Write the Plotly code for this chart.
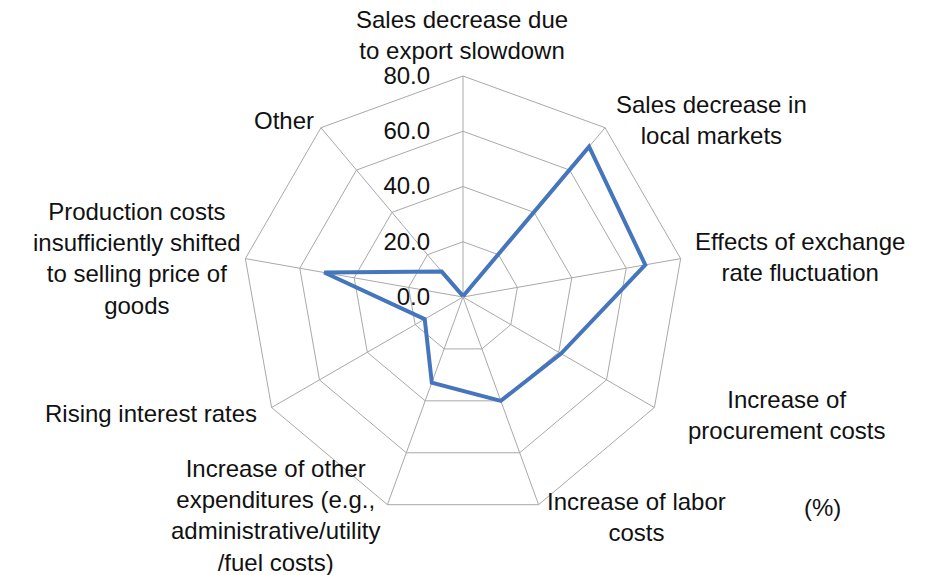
import plotly.graph_objects as go

# Survey: factors behind worsening operating profit (%)
categories = [
    "Sales decrease due to export slowdown",
    "Sales decrease in local markets",
    "Effects of exchange rate fluctuation",
    "Increase of procurement costs",
    "Increase of labor costs",
    "Increase of other expenditures (e.g., administrative/utility /fuel costs)",
    "Rising interest rates",
    "Production costs insufficiently shifted to selling price of goods",
    "Other",
]
values = [0.3, 71.0, 67.0, 41.0, 40.0, 33.0, 16.0, 51.0, 12.0]

# Wrapped display text for each category label
label_lines = [
    "Sales decrease due<br>to export slowdown",
    "Sales decrease in<br>local markets",
    "Effects of exchange<br>rate fluctuation",
    "Increase of<br>procurement costs",
    "Increase of labor<br>costs",
    "Increase of other<br>expenditures (e.g.,<br>administrative/utility<br>/fuel costs)",
    "Rising interest rates",
    "Production costs<br>insufficiently shifted<br>to selling price of<br>goods",
    "Other",
]
# Label anchor points in pixels (x from left, y from top)
label_px = [
    (462, 35), (711, 120), (800, 257), (786, 415), (636, 517),
    (275, 515), (151, 413), (137, 258), (284, 120),
]
radial_ticks = [0, 20, 40, 60, 80]

W, H = 928, 575
FONT = "Liberation Sans, Arial, sans-serif"
GRID = "#a9a9a9"

r_closed = values + values[:1]
theta_closed = categories + categories[:1]

fig = go.Figure(
    go.Scatterpolar(
        r=r_closed,
        theta=theta_closed,
        mode="lines",
        line=dict(color="#4576bd", width=4),
        hoverinfo="skip",
        showlegend=False,
    )
)

cx, cy, R = 463, 297, 221
fig.update_layout(
    width=W,
    height=H,
    margin=dict(l=0, r=0, t=0, b=0),
    paper_bgcolor="white",
    plot_bgcolor="white",
    font=dict(family=FONT, size=24, color="#111111"),
    polar=dict(
        domain=dict(x=[(cx - R) / W, (cx + R) / W], y=[1 - (cy + R) / H, 1 - (cy - R) / H]),
        bgcolor="white",
        gridshape="linear",
        radialaxis=dict(
            range=[0, 80],
            tickvals=radial_ticks,
            tickformat=".1f",
            angle=90,
            tickangle=90,
            side="counterclockwise",
            showline=False,
            ticks="outside",
            ticklen=24,
            tickcolor="rgba(0,0,0,0)",
            showgrid=True,
            gridcolor=GRID,
            gridwidth=1,
            tickfont=dict(family=FONT, size=24, color="#111111"),
        ),
        angularaxis=dict(
            direction="clockwise",
            rotation=90,
            showticklabels=False,
            ticks="",
            showline=True,
            linecolor=GRID,
            linewidth=1,
            showgrid=True,
            gridcolor=GRID,
            gridwidth=1,
        ),
    ),
)

annotations = []
for text, (px, py) in zip(label_lines, label_px):
    annotations.append(
        dict(
            text=text,
            x=px / W,
            y=1 - py / H,
            xref="paper",
            yref="paper",
            xanchor="center",
            yanchor="middle",
            align="center",
            showarrow=False,
            font=dict(family=FONT, size=24, color="#111111"),
        )
    )
annotations.append(
    dict(
        text="(%)",
        x=822 / W,
        y=1 - 507 / H,
        xref="paper",
        yref="paper",
        xanchor="center",
        yanchor="middle",
        showarrow=False,
        font=dict(family=FONT, size=24, color="#111111"),
    )
)
fig.update_layout(annotations=annotations)

fig.write_html("out.html")
